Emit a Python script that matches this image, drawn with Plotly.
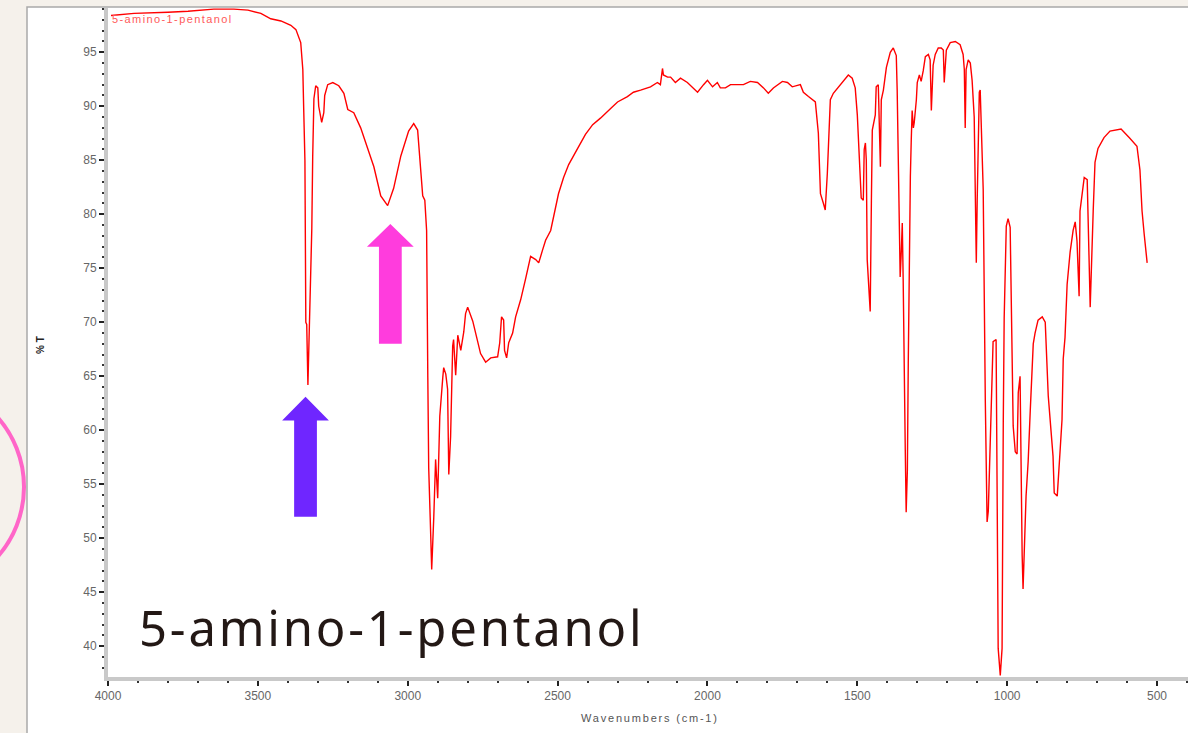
import plotly.graph_objects as go

# IR spectrum of 5-amino-1-pentanol: wavenumber (cm-1) vs transmittance (%T)
wavenumbers = [
    3990, 3913, 3800, 3733, 3647, 3580, 3533, 3490, 3457, 3423, 3390, 3373,
    3357, 3350, 3347, 3343, 3340, 3337, 3333, 3327, 3320, 3317, 3313, 3307,
    3300, 3297, 3287, 3280, 3277, 3267, 3250, 3230, 3213, 3200, 3180, 3157,
    3133, 3113, 3090, 3067, 3047, 3023, 2997, 2980, 2967, 2960, 2950, 2943,
    2937, 2933, 2930, 2925, 2920, 2913, 2910, 2907, 2900, 2893, 2883, 2880,
    2873, 2867, 2863, 2857, 2850, 2847, 2840, 2833, 2823, 2813, 2807, 2800,
    2783, 2767, 2757, 2740, 2723, 2700, 2693, 2687, 2680, 2677, 2670, 2663,
    2650, 2640, 2623, 2607, 2590, 2573, 2563, 2550, 2540, 2523, 2513, 2497,
    2480, 2463, 2433, 2407, 2383, 2357, 2323, 2300, 2267, 2247, 2223, 2190,
    2167, 2157, 2150, 2147, 2133, 2123, 2107, 2090, 2067, 2033, 2013, 2000,
    1983, 1967, 1957, 1940, 1923, 1900, 1880, 1857, 1833, 1813, 1797, 1780,
    1750, 1733, 1717, 1690, 1680, 1663, 1640, 1630, 1623, 1613, 1607, 1600,
    1593, 1590, 1580, 1563, 1547, 1530, 1517, 1507, 1500, 1493, 1487, 1480,
    1477, 1473, 1470, 1467, 1460, 1457, 1453, 1450, 1440, 1437, 1430, 1423,
    1420, 1413, 1403, 1390, 1380, 1370, 1367, 1363, 1360, 1357, 1353, 1350,
    1347, 1343, 1340, 1337, 1333, 1330, 1327, 1323, 1320, 1317, 1313, 1310,
    1303, 1300, 1293, 1287, 1280, 1273, 1263, 1257, 1253, 1247, 1240, 1230,
    1220, 1213, 1210, 1203, 1190, 1173, 1157, 1147, 1143, 1140, 1137, 1130,
    1123, 1117, 1110, 1107, 1103, 1100, 1097, 1093, 1090, 1087, 1083, 1080,
    1073, 1067, 1063, 1057, 1050, 1047, 1037, 1033, 1030, 1023, 1017, 1013,
    1010, 1003, 997, 990, 987, 983, 980, 973, 967, 963, 957, 950,
    947, 937, 930, 923, 917, 913, 907, 897, 883, 873, 863, 853,
    847, 843, 833, 823, 817, 813, 807, 800, 790, 780, 773, 767,
    760, 757, 743, 733, 730, 723, 713, 707, 697, 677, 657, 620,
    593, 567, 557, 550, 543, 533,
]
transmittance = [
    98.4, 98.6, 98.7, 98.8, 99.0, 99.0, 98.9, 98.6, 98.1, 97.9, 97.5, 97.1,
    95.9, 93.4, 89.7, 85.0, 70.0, 69.8, 64.2, 70.1, 78.7, 85.4, 90.7, 91.9,
    91.7, 90.0, 88.5, 89.4, 91.0, 92.0, 92.2, 91.9, 91.2, 89.7, 89.4, 88.0,
    86.0, 84.4, 81.7, 80.8, 82.4, 85.4, 87.7, 88.4, 87.8, 85.4, 81.7, 81.3,
    78.5, 64.9, 56.5, 51.9, 47.1, 52.0, 54.8, 57.3, 53.7, 61.3, 64.9, 65.8,
    65.2, 63.8, 55.9, 59.4, 67.8, 68.4, 65.1, 68.8, 67.4, 69.1, 70.8, 71.4,
    70.1, 68.1, 67.1, 66.3, 66.7, 66.8, 68.1, 70.5, 70.2, 67.4, 66.7, 68.1,
    69.0, 70.5, 72.1, 74.0, 76.1, 75.8, 75.5, 76.7, 77.6, 78.5, 79.7, 81.9,
    83.4, 84.6, 86.1, 87.4, 88.3, 88.9, 89.8, 90.4, 90.9, 91.3, 91.5, 91.8,
    92.2, 92.0, 93.5, 92.9, 92.7, 92.7, 92.2, 92.6, 92.2, 91.3, 92.0, 92.4,
    91.8, 92.2, 91.7, 91.7, 92.0, 92.0, 92.0, 92.3, 92.2, 91.7, 91.2, 91.7,
    92.3, 92.2, 91.8, 92.0, 91.3, 90.9, 90.4, 87.5, 81.9, 81.0, 80.4, 83.8,
    88.1, 90.6, 91.2, 91.8, 92.3, 92.9, 92.6, 91.7, 89.2, 84.6, 81.5, 81.3,
    86.0, 86.6, 85.0, 75.8, 72.1, 71.0, 81.3, 87.8, 89.2, 91.8, 92.0, 84.4,
    90.6, 91.5, 93.6, 95.0, 95.4, 94.7, 91.5, 85.3, 81.3, 74.2, 76.7, 79.2,
    74.0, 61.7, 58.2, 52.4, 56.3, 66.2, 77.6, 83.5, 86.9, 89.6, 88.0, 88.5,
    90.6, 92.2, 92.9, 92.3, 93.3, 94.6, 94.8, 94.3, 89.6, 93.8, 94.8, 95.4,
    95.4, 95.2, 92.2, 95.2, 95.9, 96.0, 95.7, 94.8, 93.4, 88.0, 93.4, 94.3,
    94.0, 92.4, 89.0, 80.1, 75.5, 81.3, 87.8, 91.3, 91.5, 88.7, 86.4, 82.3,
    62.8, 51.5, 52.5, 59.4, 65.4, 68.2, 68.4, 51.9, 39.8, 37.3, 39.8, 60.8,
    70.4, 78.9, 79.6, 78.8, 73.5, 69.3, 60.4, 58.0, 57.8, 63.5, 65.0, 48.4,
    45.3, 53.9, 57.1, 61.8, 65.2, 68.0, 69.0, 70.2, 70.5, 70.0, 63.2, 59.8,
    57.6, 54.2, 53.9, 58.3, 61.0, 66.6, 68.6, 73.5, 76.5, 78.5, 79.3, 77.5,
    72.4, 80.3, 83.4, 83.2, 79.0, 71.4, 80.3, 84.8, 86.1, 87.1, 87.7, 87.9,
    87.1, 86.3, 84.1, 80.3, 78.2, 75.5,
]

x_ticks = [4000, 3500, 3000, 2500, 2000, 1500, 1000, 500]
y_ticks = [40, 45, 50, 55, 60, 65, 70, 75, 80, 85, 90, 95]

compound = "5-amino-1-pentanol"

# Peak markers: (wavenumber of tip, %T of tip, %T of head base, %T of tail, colour)
markers = [
    (3341, 63.1, 60.9, 52.0, "#6f26ff"),
    (3058, 79.1, 77.0, 68.0, "#ff3cdd"),
]
HEAD_HALF = 78   # cm-1
SHAFT_HALF = 38  # cm-1

W, H = 1188, 733
L, R, T, B = 108, 0, 8, 56
X_RANGE = [4000, 396.7]
Y_RANGE = [37.15, 99.1]

fig = go.Figure()
fig.add_trace(go.Scatter(
    x=wavenumbers, y=transmittance, mode="lines",
    line=dict(color="#ff0000", width=1.4),
    hoverinfo="x+y", showlegend=False,
))

shapes = []
pw, ph = W - L - R, H - T - B


def px_x(p):
    return (p - L) / pw


def px_y(p):
    return (H - B - p) / ph


# white panel with a grey frame on the beige page
shapes.append(dict(type="rect", xref="paper", yref="paper", layer="below",
                   x0=px_x(27), x1=px_x(1195), y0=px_y(745), y1=px_y(7),
                   fillcolor="white", line=dict(color="#a9a9a9", width=1.5)))
# pink ring at the left edge of the page
shapes.append(dict(type="circle", xref="paper", yref="paper", layer="above",
                   x0=px_x(-186), x1=px_x(24), y0=px_y(592), y1=px_y(382),
                   line=dict(color="#ff66c8", width=4)))

for wn, tip, base, tail, col in markers:
    path = (f"M {wn} {tip} L {wn - HEAD_HALF} {base} L {wn - SHAFT_HALF} {base} "
            f"L {wn - SHAFT_HALF} {tail} L {wn + SHAFT_HALF} {tail} "
            f"L {wn + SHAFT_HALF} {base} L {wn + HEAD_HALF} {base} Z")
    shapes.append(dict(type="path", xref="x", yref="y", path=path,
                       fillcolor=col, line=dict(width=0), layer="above"))

axis_common = dict(
    showline=True, linecolor="#c9c9c9", linewidth=4,
    ticks="outside", ticklen=5, tickwidth=2, tickcolor="#222",
    showgrid=False, zeroline=False,
    tickfont=dict(family="Liberation Sans, Arial, sans-serif", size=12, color="#666"),
)


def spaced(text, px):
    return f'<span style="letter-spacing:{px}px">{text}</span>'


fig.update_layout(
    width=W, height=H,
    margin=dict(l=L, r=R, t=T, b=B, autoexpand=False),
    paper_bgcolor="#f5f1eb", plot_bgcolor="white",
    xaxis=dict(range=X_RANGE, tickmode="array", tickvals=x_ticks,
               ticktext=[str(v) for v in x_ticks],
               minor=dict(dtick=100, tick0=0, ticks="outside", ticklen=2,
                          tickwidth=2, tickcolor="#333"),
               **axis_common),
    yaxis=dict(range=Y_RANGE, tickmode="array", tickvals=y_ticks,
               ticktext=[str(v) for v in y_ticks],
               minor=dict(dtick=1, tick0=0, ticks="outside", ticklen=2,
                          tickwidth=2, tickcolor="#333"),
               **axis_common),
    shapes=shapes,
    annotations=[
        dict(text=spaced(compound, 1.4), xref="paper", yref="paper",
             x=px_x(110), y=px_y(19), xanchor="left", yanchor="middle",
             showarrow=False,
             font=dict(family="Liberation Sans, Arial, sans-serif", size=11, color="#ff5a5a")),
        dict(text=spaced(compound, 2.8), xref="paper", yref="paper",
             x=px_x(137), y=px_y(627), xanchor="left", yanchor="middle",
             showarrow=False,
             font=dict(family="Noto Sans, sans-serif", size=49, color="#231815")),
        dict(text=spaced("Wavenumbers (cm-1)", 1.8), xref="paper", yref="paper",
             x=px_x(650), y=px_y(718), xanchor="center", yanchor="middle",
             showarrow=False,
             font=dict(family="Liberation Sans, Arial, sans-serif", size=11, color="#555")),
        dict(text="<b>% T</b>", xref="paper", yref="paper", textangle=-90,
             x=px_x(40), y=px_y(345), xanchor="center", yanchor="middle",
             showarrow=False,
             font=dict(family="Liberation Sans, Arial, sans-serif", size=10, color="#222")),
    ],
)

fig.write_html("out.html")
